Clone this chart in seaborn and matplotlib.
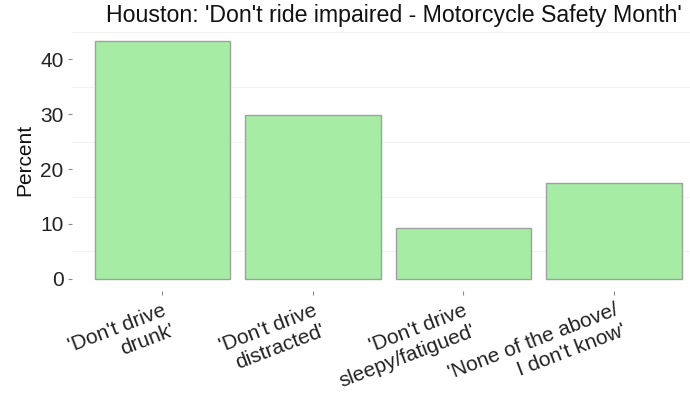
import seaborn as sns
import matplotlib.pyplot as plt
import pandas as pd

categories = ["'Don't drive\ndrunk'", "'Don't drive\ndistracted'",
              "'Don't drive\nsleepy/fatigued'", "'None of the above/\nI don't know'"]
percent = [43.3, 29.9, 9.2, 17.5]

df = pd.DataFrame({"answer": categories, "percent": percent})

sns.set_theme(style="white")
plt.rcParams["font.family"] = ["Liberation Sans", "DejaVu Sans"]

fig = plt.figure(figsize=(6.9, 4), dpi=100)
ax = fig.add_axes([72 / 690, 1 - 291 / 400, 618 / 690, 262 / 400])

# faint grid lines between the labelled ticks
for y in [5, 15, 25, 35, 45]:
    ax.axhline(y, color="#f2f2f2", lw=0.8, zorder=0)

sns.barplot(data=df, x="answer", y="percent", color="#a6eca4",
            edgecolor="#a0a0a0", linewidth=1.0, width=0.9, saturation=1, ax=ax, zorder=2)

ax.set_xlim(-0.6, 3.506)
ax.set_ylim(-2.2, 45.5)
ax.set_yticks([0, 10, 20, 30, 40])
for s in ax.spines.values():
    s.set_visible(False)
ax.tick_params(axis="both", length=3, width=0.8, color="#8c8c8c", labelsize=15,
               labelcolor="#222222", pad=3, left=True, bottom=True)
ax.tick_params(axis="x", pad=4)
ax.set_xlabel("")
ax.set_ylabel("Percent", fontsize=15, color="#111111", labelpad=4)
plt.setp(ax.get_xticklabels(), rotation=21, ha="right", rotation_mode="anchor",
         multialignment="right", fontsize=15)
ax.set_title("Houston: 'Don't ride impaired - Motorcycle Safety Month'",
             fontsize=16.7, color="#111111", pad=5, x=(394 - 72) / 618)

fig.savefig("out.png", dpi=100)
